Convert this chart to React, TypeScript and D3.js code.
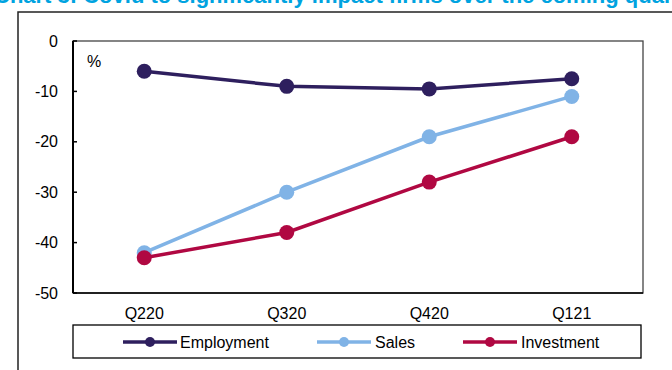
import React from "react";
import * as d3 from "d3";

const categories = ["Q220", "Q320", "Q420", "Q121"];
const employment = [-6, -9, -9.5, -7.5];
const sales = [-42, -30, -19, -11];
const investment = [-43, -38, -28, -19];
const yTicks = [0, -10, -20, -30, -40, -50];
const seriesNames = ["Employment", "Sales", "Investment"];
const seriesColors = ["#2e1f5e", "#80b3e6", "#b00842"];
const titleText = "Chart 3: Covid to significantly impact firms over the coming quarters";

const W = 672;
const H = 370;
const plot = { left: 73, right: 643, top: 41, bottom: 293 };
const font = "'Liberation Sans', Arial, sans-serif";
const fs = 16;

export default function App() {
  const x = d3.scaleBand<string>().domain(categories).range([plot.left, plot.right]);
  const y = d3.scaleLinear().domain([-50, 0]).range([plot.bottom, plot.top]);
  const seriesData = [employment, sales, investment];
  const line = d3
    .line<number>()
    .x((_, i) => (x(categories[i]) as number) + x.bandwidth() / 2)
    .y((d) => y(d));

  const legendItems = [
    { lx: 123, tx: 180 },
    { lx: 317, tx: 375 },
    { lx: 463, tx: 521 },
  ];

  return (
    <svg
      width={W}
      height={H}
      style={{ position: "absolute", left: 0, top: 0, background: "#fff" }}
      fontFamily={font}
    >
      <text x={-6} y={3} fill="#00a3e0" fontWeight="bold" fontSize={22}>
        {titleText}
      </text>
      <path d={`M18,${H + 2} L18,12 L${W + 2},12`} fill="none" stroke="#222" strokeWidth={1.5} />

      <rect
        x={plot.left}
        y={plot.top}
        width={plot.right - plot.left}
        height={plot.bottom - plot.top}
        fill="none"
        stroke="#444"
        strokeWidth={1.3}
      />
      <line x1={plot.left} x2={plot.left} y1={plot.top} y2={plot.bottom} stroke="#000" strokeWidth={2} />
      <line x1={plot.left} x2={plot.right} y1={plot.bottom} y2={plot.bottom} stroke="#000" strokeWidth={1.5} />

      {yTicks.map((t) => (
        <g key={t}>
          <line x1={plot.left} x2={plot.left + 4} y1={y(t)} y2={y(t)} stroke="#000" strokeWidth={1.5} />
          <text x={58} y={y(t)} dy="0.35em" textAnchor="end" fontSize={fs} fill="#000">
            {t}
          </text>
        </g>
      ))}
      <text x={87} y={67} fontSize={fs} fill="#000">%</text>

      {categories.map((c) => (
        <text
          key={c}
          x={(x(c) as number) + x.bandwidth() / 2}
          y={319}
          textAnchor="middle"
          fontSize={fs}
          fill="#000"
        >
          {c}
        </text>
      ))}

      {seriesData.map((s, si) => (
        <g key={seriesNames[si]}>
          <path d={line(s) || ""} fill="none" stroke={seriesColors[si]} strokeWidth={3.5} />
          {s.map((v, i) => (
            <circle
              key={i}
              cx={(x(categories[i]) as number) + x.bandwidth() / 2}
              cy={y(v)}
              r={7.5}
              fill={seriesColors[si]}
            />
          ))}
        </g>
      ))}

      <rect x={73} y={325} width={568} height={33} fill="none" stroke="#000" strokeWidth={1.3} />
      {seriesNames.map((n, i) => (
        <g key={n}>
          <line
            x1={legendItems[i].lx}
            x2={legendItems[i].lx + 54}
            y1={342}
            y2={342}
            stroke={seriesColors[i]}
            strokeWidth={3.5}
          />
          <circle cx={legendItems[i].lx + 27} cy={342} r={5} fill={seriesColors[i]} />
          <text x={legendItems[i].tx} y={342} dy="0.35em" fontSize={fs} fill="#000">
            {n}
          </text>
        </g>
      ))}
    </svg>
  );
}
